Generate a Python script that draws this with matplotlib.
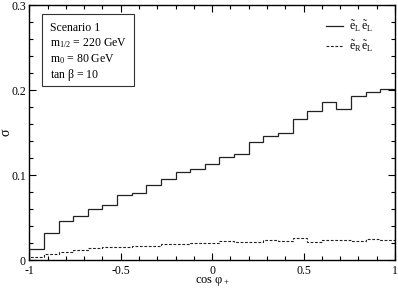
import numpy as np
import matplotlib
matplotlib.use("Agg")
import matplotlib.pyplot as plt
from matplotlib.patches import Rectangle
from matplotlib.ticker import MultipleLocator

plt.rcParams["font.family"] = ["Liberation Serif", "DejaVu Serif"]
plt.rcParams["mathtext.fontset"] = "custom"
plt.rcParams["mathtext.rm"] = "Liberation Serif"
plt.rcParams["mathtext.it"] = "Liberation Serif:italic"
plt.rcParams["mathtext.bf"] = "Liberation Serif:bold"

# 25 bins in cos(phi_+) from -1 to 1
n_bins = 25
sigma_LL = [0.0125, 0.0314, 0.0455, 0.0514, 0.0596, 0.065, 0.0761, 0.0792, 0.0880,
            0.0949, 0.103, 0.1067, 0.113, 0.1216, 0.1247, 0.1384, 0.1455, 0.149,
            0.1663, 0.1757, 0.1855, 0.1776, 0.1933, 0.198, 0.201]
sigma_RL = [0.0031, 0.0075, 0.0098, 0.0114, 0.0137, 0.0149, 0.0149, 0.0169, 0.0169,
            0.0188, 0.0188, 0.0200, 0.0196, 0.0224, 0.0208, 0.0208, 0.0239, 0.0220,
            0.0259, 0.0208, 0.0231, 0.0231, 0.0224, 0.0250, 0.0235]
box_lines = ["Scenario 1", "m$_{1/2}$ = 220 GeV", "m$_0$ = 80 GeV",
             "tan $\\mathrm{\\beta}$ = 10"]

edges = np.linspace(-1, 1, n_bins + 1)

fig = plt.figure(figsize=(3.98, 2.88), dpi=100)
ax = fig.add_axes([0.0736, 0.0972, 0.9189, 0.8854])

ax.stairs(sigma_LL, edges, color="#222222", lw=0.9,
          label=r"$\tilde{\mathrm{e}}_\mathrm{L}\,\tilde{\mathrm{e}}_\mathrm{L}$")
ax.stairs(sigma_RL, edges, color="#222222", lw=0.8, ls=(0, (2.5, 1.5)),
          label=r"$\tilde{\mathrm{e}}_\mathrm{R}\,\tilde{\mathrm{e}}_\mathrm{L}$")

ax.set_xlim(-1, 1)
ax.set_ylim(0, 0.3)
ax.xaxis.set_minor_locator(MultipleLocator(0.1))
ax.yaxis.set_minor_locator(MultipleLocator(0.02))
ax.set_xticks([-1, -0.5, 0, 0.5, 1])
ax.set_xticklabels(["-1", "-0.5", "0", "0.5", "1"])
ax.set_yticks([0, 0.1, 0.2, 0.3])
ax.set_yticklabels(["0", "0.1", "0.2", "0.3"])
ax.tick_params(which="both", direction="in", top=True, right=True, labelsize=8.5)
ax.tick_params(axis="x", pad=3.5)
ax.tick_params(axis="y", pad=2.5)
ax.tick_params(which="major", length=5, width=0.8)
ax.tick_params(which="minor", length=3, width=0.8)
for s in ax.spines.values():
    s.set_linewidth(1.0)

ax.set_xlabel(r"cos $\mathrm{\varphi}_+$", fontsize=9, labelpad=-1.5)
ax.set_ylabel(r"$\mathrm{\sigma}$", fontsize=10)
ax.yaxis.set_label_coords(-0.045, 0.5)

# parameter box
ax.add_patch(Rectangle((-0.930, 0.2047), 0.5, 0.0843, fill=False,
                       ec="#333333", lw=0.8, zorder=3))
for txt, yb in zip(box_lines, [0.2698, 0.2515, 0.2330, 0.2145]):
    ax.text(-0.886, yb, txt, fontsize=8.5, ha="left", va="baseline")

ax.legend(loc="upper right", bbox_to_anchor=(0.94, 0.945), frameon=False,
          fontsize=8.5, handlelength=1.45, handletextpad=0.5,
          borderaxespad=0, borderpad=0, labelspacing=0.45)

fig.savefig("out.png", dpi=100)
